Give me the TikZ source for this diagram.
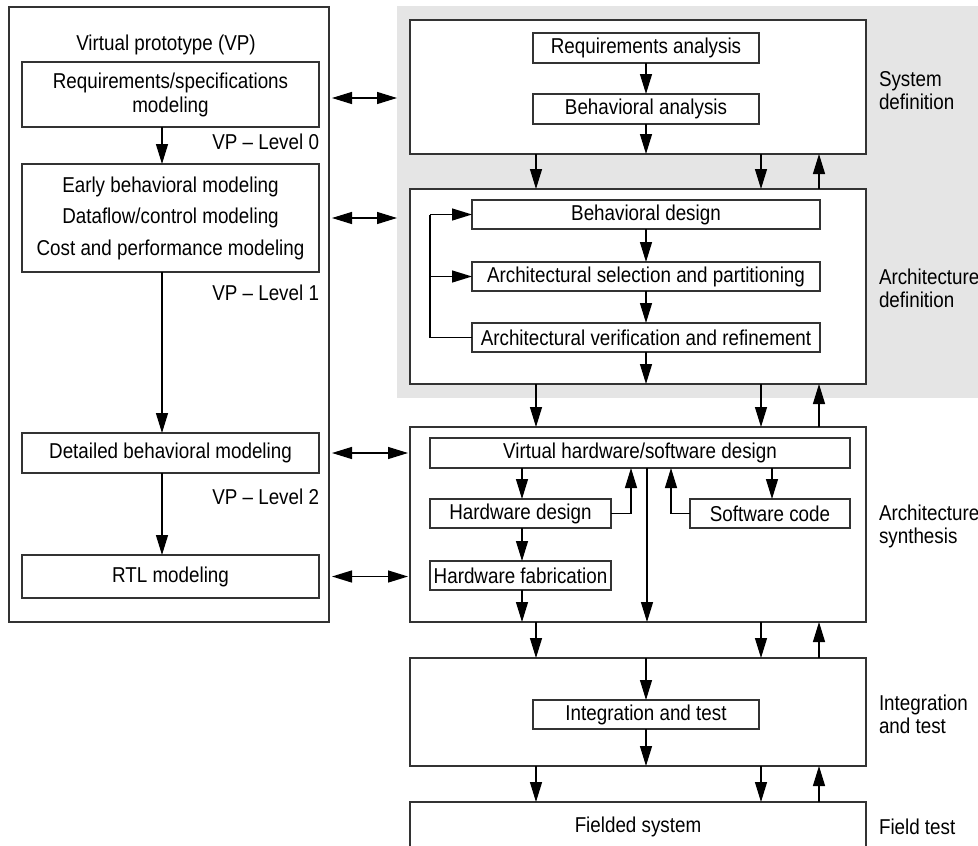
\documentclass[tikz,border=0pt]{standalone}
\usepackage{fontspec}
\setmainfont{Liberation Sans}[FakeStretch=0.875]
\usetikzlibrary{arrows.meta,calc}
\definecolor{bggray}{HTML}{E5E5E5}
\definecolor{edge}{HTML}{333333}
\begin{document}
\begin{tikzpicture}[x=1pt,y=-1pt,
  every node/.style={font=\fontsize{21.5}{24}\selectfont, inner sep=0pt, outer sep=0pt},
  frame/.style={draw=edge, line width=1.5pt, fill=white, align=center},
  arr/.style={line width=1.3pt, -{Triangle[length=20pt,width=12pt]}},
  dbl/.style={line width=1.3pt, {Triangle[length=20pt,width=12pt]}-{Triangle[length=20pt,width=12pt]}},
  plain/.style={line width=1.3pt},
  side/.style={anchor=west, align=left, font=\fontsize{21.5}{23}\selectfont},
  lvl/.style={anchor=base east}
]
\path[use as bounding box, clip] (0,0) rectangle (978,846);
\fill[white] (0,0) rectangle (978,846);

% gray background
\node[fill=bggray, minimum width=600, minimum height=392, anchor=north west] (shade) at (397,6) {};

% left column: virtual prototype
\node[frame, minimum width=320, minimum height=615] (vp) at (169,314.5) {};
\node[anchor=base] (vptitle) at (166,50) {Virtual prototype (VP)};
\node[frame, minimum width=297, minimum height=65] (vpreq) at (170.5,94.5) {Requirements/specifications\\modeling};
\node[frame, minimum width=297, minimum height=108] (vpearly) at (170.5,218) {Early behavioral modeling\\[7.5pt]Dataflow/control modeling\\[7.5pt]Cost and performance modeling};
\node[frame, minimum width=297, minimum height=40] (vpdet) at (170.5,453) {Detailed behavioral modeling};
\node[frame, minimum width=297, minimum height=43] (vprtl) at (170.5,576.5) {RTL modeling};
\node[lvl] (lv0) at (319,149) {VP -- Level 0};
\node[lvl] (lv1) at (319,300) {VP -- Level 1};
\node[lvl] (lv2) at (319,504) {VP -- Level 2};

\coordinate (lc) at (162,0);
\draw[arr] (vpreq.south -| lc) -- (vpearly.north -| lc);
\draw[arr] (vpearly.south -| lc) -- (vpdet.north -| lc);
\draw[arr] (vpdet.south -| lc) -- (vprtl.north -| lc);

% right column boxes
\node[frame, minimum width=456, minimum height=134] (sys) at (638,87) {};
\node[frame, minimum width=226, minimum height=30] (reqan) at (646,48) {Requirements analysis};
\node[frame, minimum width=226, minimum height=30] (behan) at (646,109) {Behavioral analysis};

\node[frame, minimum width=456, minimum height=195] (arch) at (638,286.5) {};
\node[frame, minimum width=348, minimum height=29] (bdes) at (646,214.5) {Behavioral design};
\node[frame, minimum width=348, minimum height=29] (asel) at (646,276.5) {Architectural selection and partitioning};
\node[frame, minimum width=348, minimum height=29] (aver) at (646,337.5) {Architectural verification and refinement};

\node[frame, minimum width=456, minimum height=195] (synth) at (638,524.5) {};
\node[frame, minimum width=420, minimum height=30] (vhw) at (640,453) {Virtual hardware/software design};
\node[frame, minimum width=181, minimum height=29] (hwd) at (520.5,513.5) {Hardware design};
\node[frame, minimum width=160, minimum height=29] (swc) at (770,513.5) {Software code};
\node[frame, minimum width=181, minimum height=29] (hwf) at (520.5,575.5) {Hardware fabrication};

\node[frame, minimum width=456, minimum height=108] (integ) at (638,712) {};
\node[frame, minimum width=226, minimum height=29] (itest) at (646,714.5) {Integration and test};

\node[frame, minimum width=456, minimum height=50] (field) at (638,827) {Fielded system};

% side labels
\node[side] (lsys) at (879,91) {System\\definition};
\node[side] (larch) at (879,288) {Architecture\\definition};
\node[side] (lsyn) at (879,526) {Architecture\\synthesis};
\node[side] (lint) at (879,714) {Integration\\and test};
\node[side] (lfld) at (879,827) {Field test};

% double arrows between columns
\draw[dbl, shorten <=3pt] (vp.east |- 0,98) -- (shade.west |- 0,98);
\draw[dbl, shorten <=3pt] (vp.east |- vpearly) -- (shade.west |- vpearly);
\draw[dbl, shorten <=3pt, shorten >=2pt] (vp.east |- vpdet) -- (synth.west |- vpdet);
\draw[dbl, shorten <=3pt, shorten >=2pt] (vp.east |- vprtl) -- (synth.west |- vprtl);

% inside system definition
\draw[arr] (reqan) -- (behan);
\draw[arr] (behan) -- (behan |- sys.south);

% between stage boxes
\coordinate (c1) at (536,0);
\coordinate (c2) at (761,0);
\coordinate (c3) at (819,0);
\foreach \a/\b in {sys/arch, arch/synth, synth/integ, integ/field}{
  \draw[arr] (\a.south -| c1) -- (\b.north -| c1);
  \draw[arr] (\a.south -| c2) -- (\b.north -| c2);
  \draw[arr] (\b.north -| c3) -- (\a.south -| c3);
}

% inside architecture definition
\draw[arr] (bdes) -- (asel);
\draw[arr] (asel) -- (aver);
\draw[arr] (aver) -- (aver |- arch.south);
\coordinate (fb) at (430,0);
\draw[plain] (aver.west) -- (aver.west -| fb) -- (bdes.west -| fb);
\draw[arr] (bdes.west -| fb) -- (bdes.west);
\draw[arr] (asel.west -| fb) -- (asel.west);

% inside architecture synthesis
\coordinate (hx) at (522,0);
\coordinate (ux) at (631,0);
\coordinate (mx) at (647,0);
\coordinate (sx) at (671,0);
\coordinate (dx) at (772,0);
\draw[arr] (vhw.south -| hx) -- (hwd.north -| hx);
\draw[arr] (hwd.south -| hx) -- (hwf.north -| hx);
\draw[arr] (hwf.south -| hx) -- (synth.south -| hx);
\draw[arr] (hwd.east) -- (hwd.east -| ux) -- (vhw.south -| ux);
\draw[arr] (vhw.south -| mx) -- (synth.south -| mx);
\draw[arr] (swc.west) -- (swc.west -| sx) -- (vhw.south -| sx);
\draw[arr] (vhw.south -| dx) -- (swc.north -| dx);

% inside integration
\draw[arr] (integ.north -| itest) -- (itest.north);
\draw[arr] (itest.south) -- (integ.south -| itest);
\end{tikzpicture}
\end{document}
